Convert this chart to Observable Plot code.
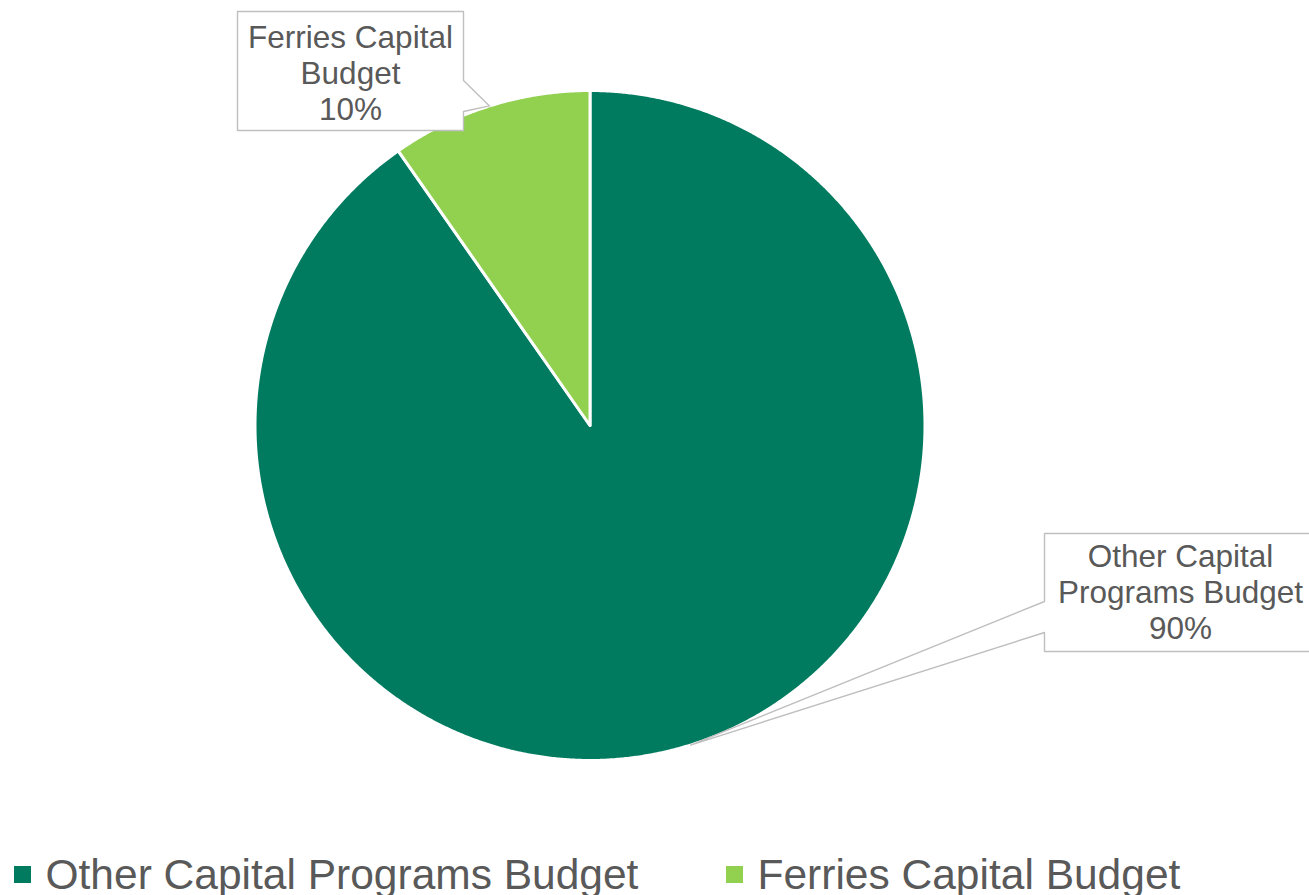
<!DOCTYPE html>
<html><head><meta charset="utf-8">
<script src="https://cdn.jsdelivr.net/npm/d3@7"></script>
<script src="https://cdn.jsdelivr.net/npm/@observablehq/plot@0.6"></script>
<style>html,body{margin:0;padding:0;background:#fff;overflow:hidden}</style>
</head><body><div id="chart"></div>
<script>
// ---- data ----
const categories = ["Other Capital Programs Budget", "Ferries Capital Budget"];
const shares = [90.3, 9.7];
const calloutTitles = ["Other Capital\nPrograms Budget", "Ferries Capital\nBudget"];
const sliceColors = ["#007B5F", "#92D050"];

// ---- layout ----
const W = 1309, H = 895;
const cx = 589.5, cy = 425, r = 335;
const font = "'Liberation Sans', Arial, Helvetica, sans-serif";
const textGray = "#595959";

const pie = d3.pie().sort(null).value(d => d.share);
const slices = pie(categories.map((name, i) => ({name, share: shares[i], title: calloutTitles[i]})));

const wedgePts = slices.flatMap(s => {
  const name = s.data.name;
  const n = Math.max(2, Math.ceil((s.endAngle - s.startAngle) / 0.005));
  const pts = [{name, x: cx, y: cy}];
  for (let k = 0; k <= n; k++) {
    const a = s.startAngle + (s.endAngle - s.startAngle) * k / n;
    pts.push({name, x: cx + r * Math.sin(a), y: cy - r * Math.cos(a)});
  }
  return pts;
});

// callout boxes (layout), pointer tips from slice mid-angles
const boxLayout = {
  "Other Capital Programs Budget": {x0: 1044, x1: 1322, y0: 533, y1: 651, side: "left", p0: 601, p1: 632, tx: 1180, ty: 591},
  "Ferries Capital Budget": {x0: 237, x1: 463, y0: 11, y1: 130, side: "right", p0: 80, p1: 111, tx: 350, ty: 72}
};
const calloutPts = [];
const calloutText = [];
slices.forEach(s => {
  const b = boxLayout[s.data.name];
  const mid = (s.startAngle + s.endAngle) / 2;
  const tip = [cx + r * Math.sin(mid), cy - r * Math.cos(mid)];
  let poly;
  if (b.side === "right") {
    poly = [[b.x0, b.y0], [b.x1, b.y0], [b.x1, b.p0], tip, [b.x1, b.p1], [b.x1, b.y1], [b.x0, b.y1]];
  } else {
    poly = [[b.x0, b.y0], [b.x1, b.y0], [b.x1, b.y1], [b.x0, b.y1], [b.x0, b.p1], tip, [b.x0, b.p0]];
  }
  poly.forEach(([x, y]) => calloutPts.push({name: s.data.name, x, y}));
  calloutText.push({x: b.tx, y: b.ty, text: s.data.title + "\n" + Math.round(s.data.share) + "%"});
});

// legend (layout)
const legendX = [14, 726];
const legendItems = categories.map((name, i) => ({name, x: legendX[i]}));

const chart = Plot.plot({
  width: W, height: H, margin: 0,
  x: {type: "identity", axis: null},
  y: {type: "identity", axis: null},
  color: {domain: categories, range: sliceColors},
  style: {fontFamily: font, background: "white"},
  marks: [
    Plot.line(wedgePts, {x: "x", y: "y", z: "name", fill: "name", stroke: "white", strokeWidth: 3, strokeLinejoin: "round", curve: "linear-closed"}),
    Plot.line(calloutPts, {x: "x", y: "y", z: "name", fill: "white", stroke: "#BFBFBF", strokeWidth: 1.4, curve: "linear-closed"}),
    Plot.text(calloutText, {x: "x", y: "y", text: "text", fontSize: 31.5, lineHeight: 36 / 31.5, fill: textGray, textAnchor: "middle"}),
    Plot.rect(legendItems, {x1: "x", x2: d => d.x + 17, y1: 866, y2: 883, fill: "name"}),
    Plot.text(legendItems, {x: d => d.x + 31, y: 875, text: "name", fontSize: 42.5, fill: textGray, textAnchor: "start"})
  ]
});
document.getElementById("chart").appendChild(chart);
</script>
</body></html>
